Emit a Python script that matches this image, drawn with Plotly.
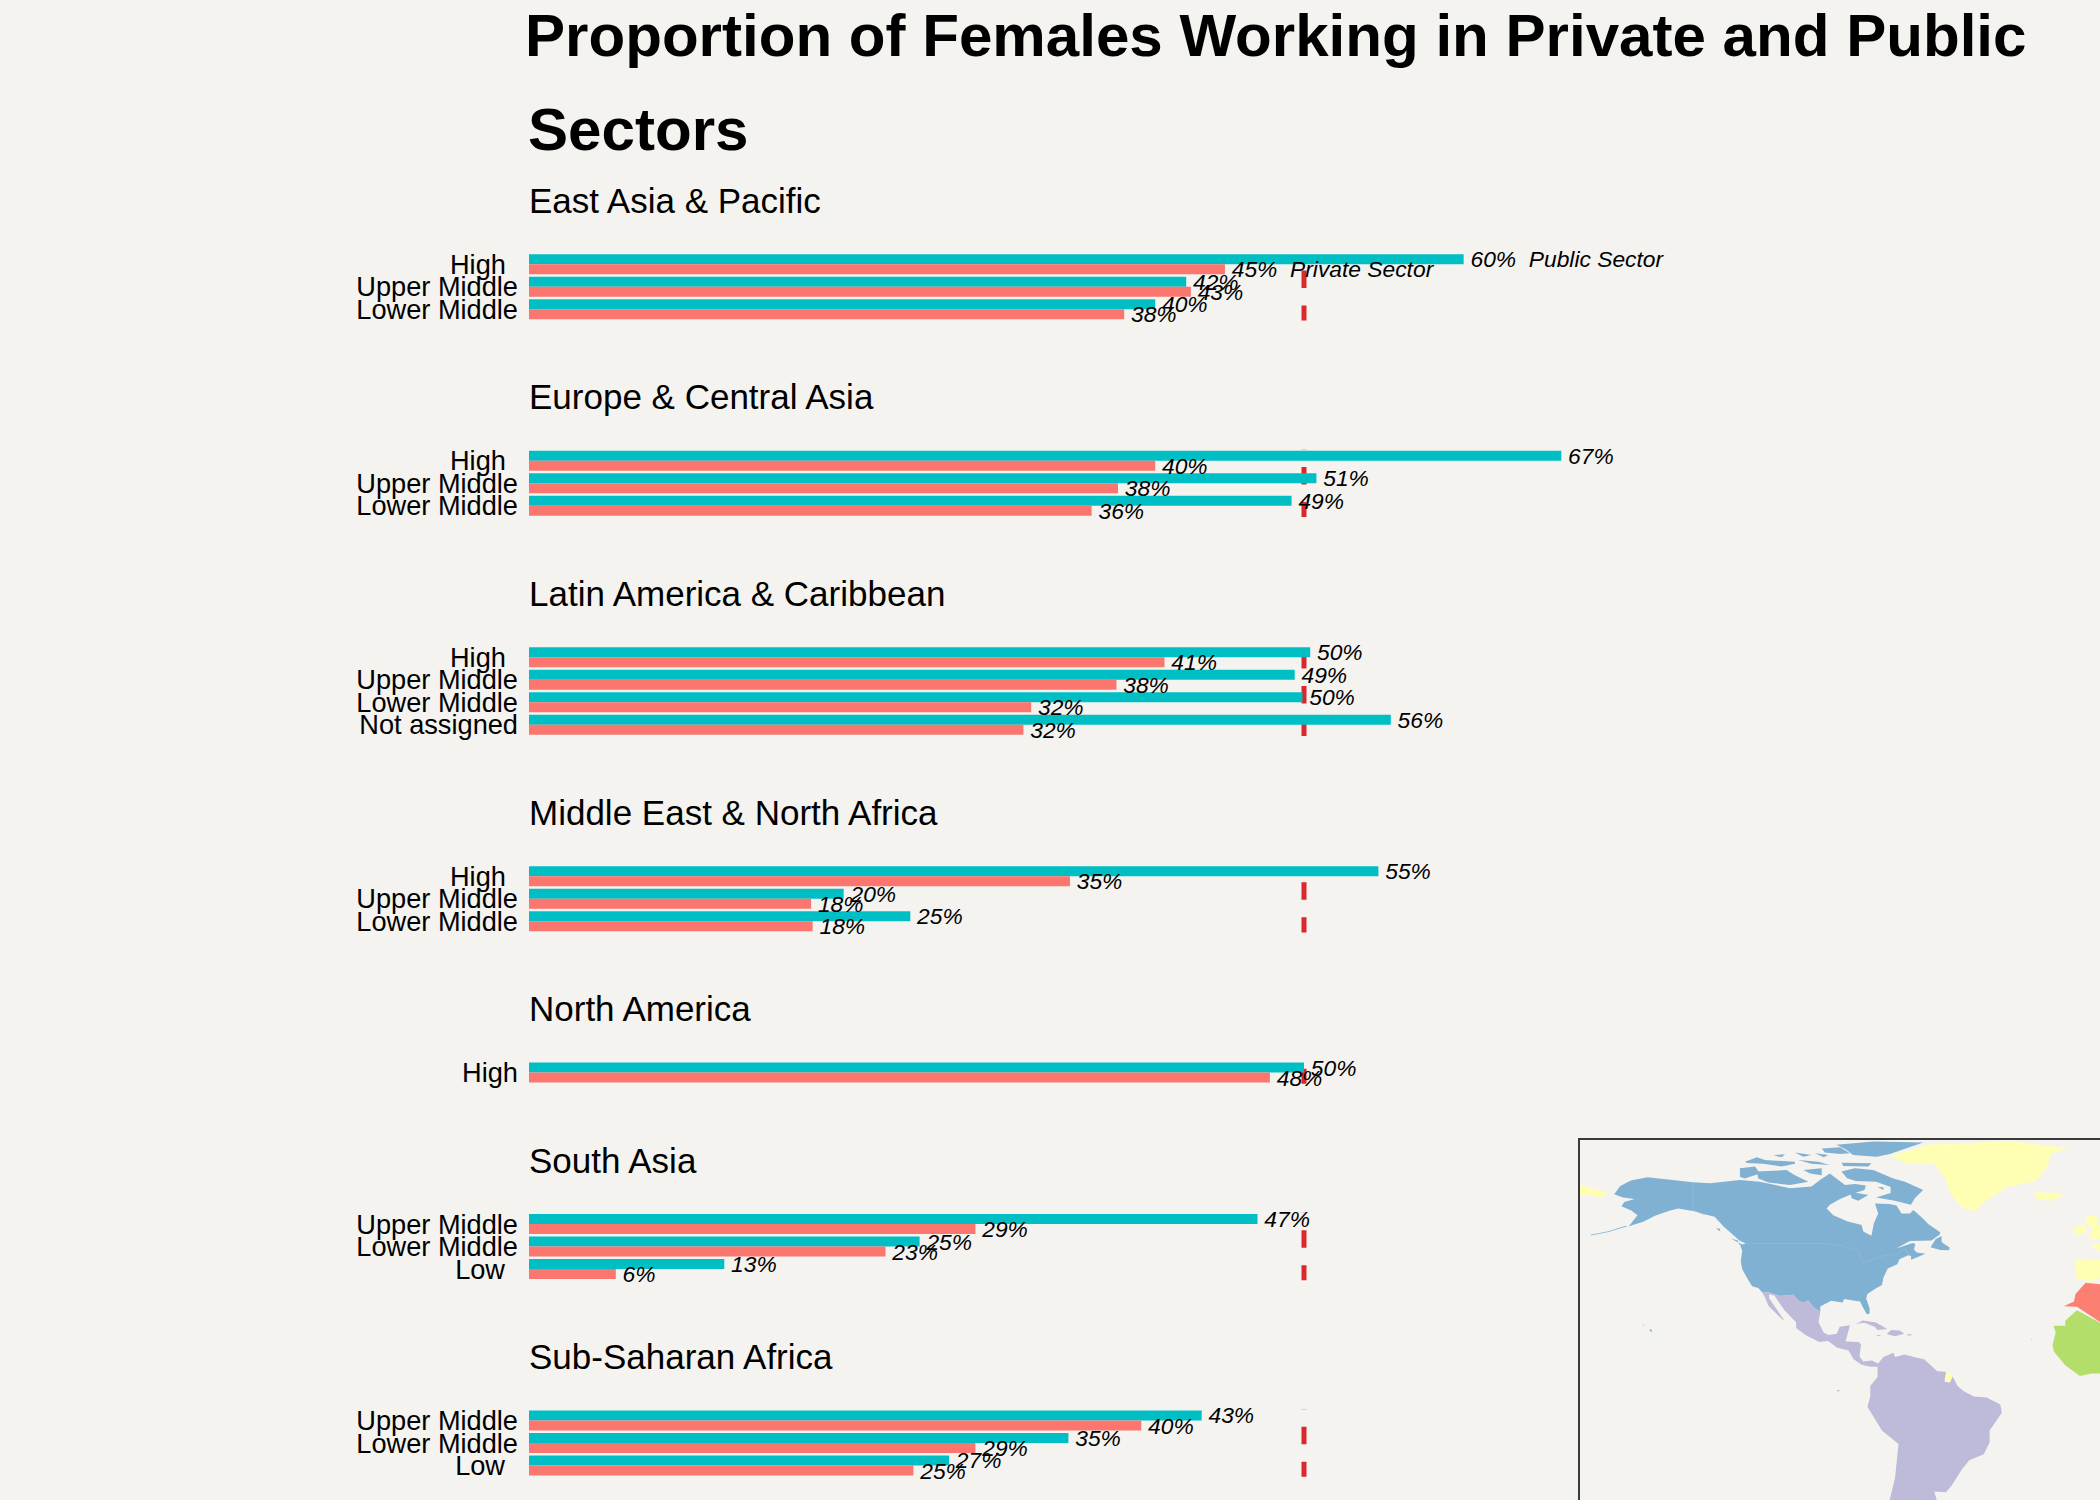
import plotly.graph_objects as go

W, H = 2100, 1500
BG = "#F4F3EF"
TEAL = "#00BFC4"
SALMON = "#FB766E"
RED = "#D9272C"
FONT = "Liberation Sans"

REGIONS = ["East Asia & Pacific", "Europe & Central Asia", "Latin America & Caribbean",
           "Middle East & North Africa", "North America", "South Asia", "Sub-Saharan Africa"]
INCOME = [["High", "Upper Middle", "Lower Middle"],
          ["High", "Upper Middle", "Lower Middle"],
          ["High", "Upper Middle", "Lower Middle", "Not assigned"],
          ["High", "Upper Middle", "Lower Middle"],
          ["High"],
          ["Upper Middle", "Lower Middle", "Low"],
          ["Upper Middle", "Lower Middle", "Low"]]
PUBLIC = [[60.3, 42.4, 40.4], [66.6, 50.8, 49.2], [50.4, 49.4, 49.9, 55.6],
          [54.8, 20.3, 24.6], [50.0], [47.0, 25.2, 12.6], [43.4, 34.8, 27.1]]
PRIVATE = [[44.9, 42.7, 38.4], [40.4, 38.0, 36.3], [41.0, 37.9, 32.4, 31.9],
           [34.9, 18.2, 18.3], [47.8], [28.8, 23.0, 5.6], [39.5, 28.8, 24.8]]
REFERENCE = 50

# Map outlines as lon/lat pairs
GREENLAND = [(-73, 78.5), (-68, 76.2), (-58, 75.8), (-54, 70.5), (-53, 67), (-51, 64), (-48, 61), (-44, 59.9), (-41, 63), (-37, 65.5),
             (-33, 68), (-24, 69.8), (-22, 71), (-20, 74), (-18.5, 76.5), (-18, 79), (-12, 81.3), (-20, 81.8), (-32, 83.6), (-45, 82.8),
             (-60, 82.2), (-65, 80.7)]
ICELAND = [(-24, 65.5), (-22, 63.9), (-18.5, 63.4), (-14, 64.8), (-15, 66.2), (-20, 66), (-22, 66.4)]
IRELAND = [(-10, 52), (-6.2, 52.2), (-5.7, 54.6), (-8, 55.2), (-10, 54.2)]
BRITAIN = [(-5.5, 50), (-1, 50.6), (-1, 54.6), (-2, 55.9), (-2, 57.6), (-3.5, 58.6), (-5.2, 58.5), (-6, 56.5), (-4.8, 54.8), (-3, 53.6), (-4.6, 53), (-5, 51.7), (-3, 51.3)]
FRANCE = [(-4.8, 48.4), (-1.6, 48.7), (-1, 49.3), (-1, 46), (-2.2, 47.2)]
IBERIA = [(-9.3, 43), (-8, 43.7), (-1.6, 43.4), (-1, 43.1), (-1, 37.7), (-2, 36.8), (-5.5, 36.1), (-6.5, 37), (-8.9, 37), (-9.5, 38.8)]
CHUKOTKA = [(-180, 68.9), (-175, 67.5), (-170, 66), (-173, 64.3), (-176, 65.5), (-180, 65)]
WRANGEL = [(-180, 71.5), (-177.5, 71.2), (-180, 70.9)]
FRENCH_GUIANA = [(-54, 5.8), (-51.7, 4.2), (-52.6, 2.2), (-54.5, 2.4)]
MAINLAND_NA = [(-168, 65.6), (-166, 68.3), (-163.5, 69.6), (-162, 70.3), (-156.5, 71.3), (-150, 70.5), (-141, 69.6), (-135, 69.3), (-128, 70.2),
               (-124.8, 70.4), (-118, 69.8), (-113.3, 68.7), (-107.6, 67.6), (-100.2, 68.2), (-97.3, 70.4), (-93.9, 72.6), (-91.6, 70.9),
               (-88.7, 68.7), (-85.3, 69), (-81.5, 68.5), (-82, 67), (-85.9, 65.8), (-90.4, 64), (-93.9, 62), (-95, 60.8), (-92.7, 58.5), (-88, 56.5),
               (-83, 55.2), (-82.4, 53), (-79.6, 51.6), (-78.8, 55.7), (-77.3, 59.1), (-78.4, 62.5), (-73.5, 62.3),
               (-71, 61.8), (-69.3, 59.1), (-66.4, 59.1), (-65.2, 60.3), (-62, 57.5), (-60, 55.5), (-56, 52.8), (-56.1, 52),
               (-59, 50), (-66.4, 49.8), (-68, 49), (-71, 47.3), (-65.5, 49.2), (-64.5, 48.8), (-65, 47), (-64, 46), (-61, 45.5),
               (-60, 46), (-63.5, 44.5), (-66, 43.5), (-66, 44.8), (-67, 45), (-70, 43.7), (-70.7, 42), (-74, 40.6), (-75.5, 37.5),
               (-76, 35), (-78, 33.9), (-81, 32), (-81.4, 30.5), (-80.2, 27), (-80.3, 25.3), (-81.2, 25.2), (-82.7, 27.8), (-83.5, 29.5),
               (-85.3, 29.7), (-89, 30.3), (-89.5, 29.1), (-93.5, 29.7), (-97.2, 27.8), (-97.2, 25.9), (-99.5, 27.5), (-101.4, 29.8),
               (-103, 29), (-104.5, 29.6), (-106.5, 31.7), (-111, 31.3), (-114.8, 32.5), (-117.1, 32.5), (-118.5, 34), (-120.6, 34.6),
               (-122, 36.8), (-124, 40.3), (-124.5, 43), (-124, 46.5), (-124.7, 48.4), (-122.8, 49), (-125, 50), (-128, 52.5),
               (-130.5, 54.8), (-133.5, 58), (-137, 58.8), (-140, 59.8), (-146, 60.8), (-149, 60), (-152, 59), (-154, 58.3),
               (-158, 56.3), (-163, 54.8), (-160, 58.5), (-162, 60), (-165.5, 61.5), (-164.5, 63), (-161, 64), (-165, 64.5)]
BAFFIN = [(-61.8, 67), (-64.7, 64.2), (-66, 62), (-72, 63.5), (-78, 64.5), (-73, 66), (-73, 68), (-78, 69.8), (-85, 70), (-88, 71),
          (-89.9, 73.2), (-85.3, 74.3), (-79, 73.7), (-72.1, 70.9), (-68.1, 69.8)]
PRINCE_CHARLES = [(-77.5, 68), (-75.5, 67.9), (-75.5, 67)]
VICTORIA = [(-119, 73.2), (-108.8, 73.7), (-105.9, 72), (-101.3, 69.8), (-107.6, 68.7), (-115, 69.5), (-118.5, 70.9)]
BANKS = [(-124.8, 74.3), (-119.6, 74.9), (-117.9, 72.6), (-123.1, 70.9), (-124.8, 71.5)]
ELLESMERE = [(-91.6, 82.2), (-79, 83.3), (-61.8, 83), (-67.5, 81), (-73.3, 79.1), (-77.8, 78.2), (-85.9, 78.8), (-88.1, 80.5)]
AXEL = [(-96.7, 81), (-90.4, 81.4), (-87, 79.4), (-90.4, 79.1), (-95.6, 79.6)]
DEVON = [(-89.9, 76.2), (-79.6, 76), (-80.7, 74.9), (-89.3, 75.1)]
CORNWALL = [(-99, 79.4), (-94.4, 78.8), (-96, 78)]
MELVILLE = [(-123, 76.5), (-119, 78), (-116.2, 77.1), (-105.9, 76.5), (-105.9, 75.8), (-110.5, 74.9), (-116.8, 75.8), (-122.5, 76.1)]
RINGNES = [(-113.3, 78.8), (-109.3, 79), (-110.5, 78)]
ELLEF = [(-105.9, 79.6), (-100.2, 78.8), (-103, 78.2)]
BATHURST = [(-104.8, 77.1), (-97.9, 76.5), (-93.9, 75.4), (-100.2, 75.8)]
PRINCE_OF_WALES = [(-103, 73.7), (-96.7, 74.3), (-96.7, 72), (-100.7, 72.6)]
SOUTHAMPTON = [(-87, 66.4), (-80.7, 65.3), (-84.1, 63.4), (-86.4, 64.2)]
NEWFOUNDLAND = [(-59.3, 47.7), (-56, 46.8), (-53, 46.7), (-52.7, 47.6), (-55.5, 49.5), (-55.5, 51.5), (-57.5, 50.5)]
VANCOUVER = [(-128, 50.7), (-123.5, 48.4), (-125, 48.6), (-125.5, 50)]
HAIDA = [(-133, 54), (-131.5, 53), (-131.8, 54)]
ALEUTIANS = [(-163.5, 54.8), (-170, 52.9), (-176, 51.7), (-176, 51.95), (-170, 53.15), (-164, 55)]
HAWAII = [(-155.9, 19.8), (-155.2, 19.2), (-154.9, 19.6), (-155.6, 20.2)]
OAHU = [(-158.2, 21.5), (-157.7, 21.3), (-157.9, 21.7)]
LATIN = [(-117.1, 32.5), (-114.8, 32.5), (-111, 31.3), (-106.5, 31.7), (-104.5, 29.6), (-103, 29), (-101.4, 29.8), (-99.5, 27.5),
         (-97.2, 25.9), (-97.8, 22.5), (-96, 19), (-94.5, 18.2), (-91.5, 18.6), (-90.5, 21), (-87, 21.5), (-88, 18), (-88.5, 16),
         (-84, 15.8), (-83.2, 15), (-83.7, 11), (-82.5, 9.3), (-79.5, 9.6), (-77.3, 8.6), (-75.5, 10.8), (-72, 12.2), (-71.5, 10.8),
         (-68.3, 11.6), (-64, 10.5), (-61.5, 10), (-57, 6), (-54, 5.8), (-54.5, 2.4), (-52.6, 2.2), (-51.7, 4.2), (-50, 1), (-48, -0.7),
         (-44.5, -2.5), (-40, -2.9), (-35.3, -5.2), (-34.8, -8), (-39, -14), (-39, -18), (-41, -22), (-46, -24), (-48.5, -27),
         (-52, -32.5), (-54, -34.8), (-58, -34.5), (-57, -38), (-73.5, -38), (-71.5, -30), (-70.3, -18.5), (-76, -14), (-81, -6),
         (-80, -2.5), (-80, 1), (-77.5, 4), (-77.5, 7.5), (-80, 7.5), (-83, 8.2), (-85.7, 10), (-87.5, 13), (-91.5, 14), (-94.5, 16.2),
         (-97.5, 15.8), (-102, 18), (-105.5, 20.5), (-105.5, 22.5), (-109.5, 26.5), (-113, 31.5), (-114.8, 31.9), (-114.7, 30.5),
         (-112, 26.5), (-109.5, 23), (-110.3, 23.5), (-112.5, 25.5), (-115, 28), (-116, 30.5)]
CUBA = [(-85, 21.9), (-82.5, 23.1), (-78, 22.4), (-74.2, 20.2), (-77.5, 19.9), (-78.5, 21), (-82, 22.3)]
HISPANIOLA = [(-74.4, 18.5), (-72.8, 19.9), (-69.9, 19.7), (-68.4, 18.6), (-71.5, 17.8)]
JAMAICA = [(-78.3, 18.3), (-76.3, 18.1), (-77, 17.8)]
PUERTO_RICO = [(-67.2, 18.4), (-65.7, 18.4), (-66, 18), (-67.2, 18)]
GALAPAGOS = [(-91.6, -0.3), (-90.5, -0.4), (-91, -1)]
MAGHREB = [(-6, 35.8), (-9.5, 32), (-10, 29.5), (-13.5, 27.9), (-9, 27.7), (-1, 22.5), (-1, 35.3)]
SAHEL = [(-17, 21.3), (-13, 21.3), (-13, 23), (-9, 26.5), (-1, 22.3), (-1, 5.2), (-4, 5.2), (-8, 4.4), (-13, 8), (-16.8, 12.5), (-17.4, 14.7), (-16.3, 19)]
CAPE_VERDE = [(-24.8, 16.9), (-24.3, 16.8), (-24.5, 16.5)]
BORDER_ALASKA_LON = [-141, -141, -137]
BORDER_ALASKA_LAT = [69.6, 60.3, 58.8]
BORDER_US_LON = [-123, -95, -89, -84, -82.5, -79, -75, -71, -68, -67]
BORDER_US_LAT = [49, 49, 48, 46.5, 42.5, 43.5, 45, 45.2, 47.3, 45]

MAP_GROUPS = [("#80B1D3", [MAINLAND_NA, BAFFIN, PRINCE_CHARLES, VICTORIA, BANKS, ELLESMERE, AXEL, DEVON, CORNWALL, MELVILLE, RINGNES, ELLEF,
                           BATHURST, PRINCE_OF_WALES, SOUTHAMPTON, NEWFOUNDLAND, VANCOUVER, HAIDA, ALEUTIANS, HAWAII, OAHU]),
              ("#FFFFB3", [GREENLAND, ICELAND, IRELAND, BRITAIN, FRANCE, IBERIA, CHUKOTKA, WRANGEL, FRENCH_GUIANA]),
              ("#BEBADA", [LATIN, CUBA, HISPANIOLA, JAMAICA, PUERTO_RICO, GALAPAGOS]),
              ("#FB8072", [MAGHREB]),
              ("#B3DE69", [SAHEL, CAPE_VERDE])]

# Layout in pixels
BAR_LEFT = 529
PX_PER_PCT = 15.5
ROW = 22.5
FIRST_TOP = 253.05
GAP = 128.95
LABEL_PAD = {"High": "\u00a0\u200a\u200a", "Low": "\u00a0\u2009"}

fig = go.Figure()
shapes, annotations = [], []
top = FIRST_TOP
for i, region in enumerate(REGIONS):
    n = len(INCOME[i])
    ax = "" if i == 0 else str(i + 1)
    labels = [c + (LABEL_PAD.get(c, "") if n > 1 else "") for c in INCOME[i]]
    public_text = [f"\u200a\u200a{round(v)}%" for v in PUBLIC[i]]
    private_text = [f"\u200a\u200a{round(v)}%" for v in PRIVATE[i]]
    if i == 0:
        public_text[0] += "\u00a0\u00a0Public Sector"
        private_text[0] += "\u00a0\u00a0Private Sector"
    for vals, txt, col in ((PUBLIC[i], public_text, TEAL), (PRIVATE[i], private_text, SALMON)):
        fig.add_trace(go.Bar(y=labels, x=vals, orientation="h", marker=dict(color=col, line=dict(width=0)),
                             text=txt, textposition="outside", cliponaxis=False, constraintext="none",
                             textfont=dict(family=FONT, size=22.8, color="#000", style="italic"),
                             xaxis="x" + ax, yaxis="y" + ax, hoverinfo="skip", showlegend=False))
    bottom = top + n * ROW
    fig.layout["xaxis" + ax] = dict(domain=[BAR_LEFT / W, 1], range=[0, (W - BAR_LEFT) / PX_PER_PCT], anchor="y" + ax,
                                    visible=False, fixedrange=True)
    fig.layout["yaxis" + ax] = dict(domain=[1 - bottom / H, 1 - top / H], anchor="x" + ax, type="category",
                                    categoryorder="array", categoryarray=labels, range=[n - 0.5, -0.5],
                                    tickmode="array", tickvals=labels, ticktext=labels,
                                    showline=False, showgrid=False, zeroline=False, ticks="", ticklabelstandoff=10,
                                    tickfont=dict(family=FONT, size=27.2, color="#000"), fixedrange=True)
    shapes.append(dict(type="line", xref="x" + ax, yref="y" + ax, x0=REFERENCE, x1=REFERENCE,
                       y0=n - 0.5 + 0.11, y1=-0.6, layer="below", line=dict(color=RED, width=5, dash="17.5px,17.5px")))
    annotations.append(dict(xref="paper", yref="paper", x=BAR_LEFT / W, y=1 - (top - 52.7) / H, xanchor="left", yanchor="middle",
                            text=region, showarrow=False, xshift=-2, font=dict(family=FONT, size=35, color="#000")))
    top = bottom + GAP

annotations.append(dict(xref="paper", yref="paper", x=523 / W, y=1 - 35.7 / H, xanchor="left", yanchor="middle", showarrow=False,
                        text="<b>Proportion of Females Working in Private and Public</b>", font=dict(family=FONT, size=60.1, color="#000")))
annotations.append(dict(xref="paper", yref="paper", x=526 / W, y=1 - 129.7 / H, xanchor="left", yanchor="middle", showarrow=False,
                        text="<b>Sectors</b>", font=dict(family=FONT, size=60.1, color="#000")))

# Inset map, equirectangular: lon and lat are linear on the axes
MAP_LEFT, MAP_TOP = 1580.3, 1140.3
PX_PER_LON, PX_PER_LAT, EQUATOR_Y = 2.91, 2.97, 1389
LON_AT_LEFT = -180 + 1 / PX_PER_LON
for col, polys in MAP_GROUPS:
    xs, ys = [], []
    for p in polys:
        xs += [q[0] for q in p] + [p[0][0], None]
        ys += [q[1] for q in p] + [p[0][1], None]
    fig.add_trace(go.Scatter(x=xs, y=ys, mode="lines", fill="toself", fillcolor=col, line=dict(width=0, color=col),
                             xaxis="x8", yaxis="y8", hoverinfo="skip", showlegend=False))
for lon, lat in ((BORDER_ALASKA_LON, BORDER_ALASKA_LAT), (BORDER_US_LON, BORDER_US_LAT)):
    fig.add_trace(go.Scatter(x=lon, y=lat, mode="lines", line=dict(width=0.8, color="#8FBAD8"),
                             xaxis="x8", yaxis="y8", hoverinfo="skip", showlegend=False))
fig.layout.xaxis8 = dict(domain=[MAP_LEFT / W, 1], range=[LON_AT_LEFT, LON_AT_LEFT + (W - MAP_LEFT) / PX_PER_LON], anchor="y8", side="top",
                         showline=True, linecolor="#3a3a3a", linewidth=1.5, showgrid=False, zeroline=False,
                         showticklabels=False, ticks="", fixedrange=True)
fig.layout.yaxis8 = dict(domain=[0, 1 - MAP_TOP / H], range=[(EQUATOR_Y - H) / PX_PER_LAT, (EQUATOR_Y - MAP_TOP) / PX_PER_LAT],
                         anchor="x8", showline=True, linecolor="#3a3a3a", linewidth=1.5, showgrid=False, zeroline=False,
                         showticklabels=False, ticks="", fixedrange=True)

fig.update_layout(width=W, height=H, margin=dict(l=0, r=0, t=0, b=0, pad=0, autoexpand=False), paper_bgcolor=BG, plot_bgcolor=BG,
                  barmode="group", bargap=0.11, bargroupgap=0, shapes=shapes, annotations=annotations,
                  font=dict(family=FONT), uniformtext=dict(mode=False))
fig.write_html("out.html", config=dict(displayModeBar=False),
               post_script=f"document.body.style.margin='0';document.body.style.background='{BG}';document.documentElement.style.overflow='hidden';")
